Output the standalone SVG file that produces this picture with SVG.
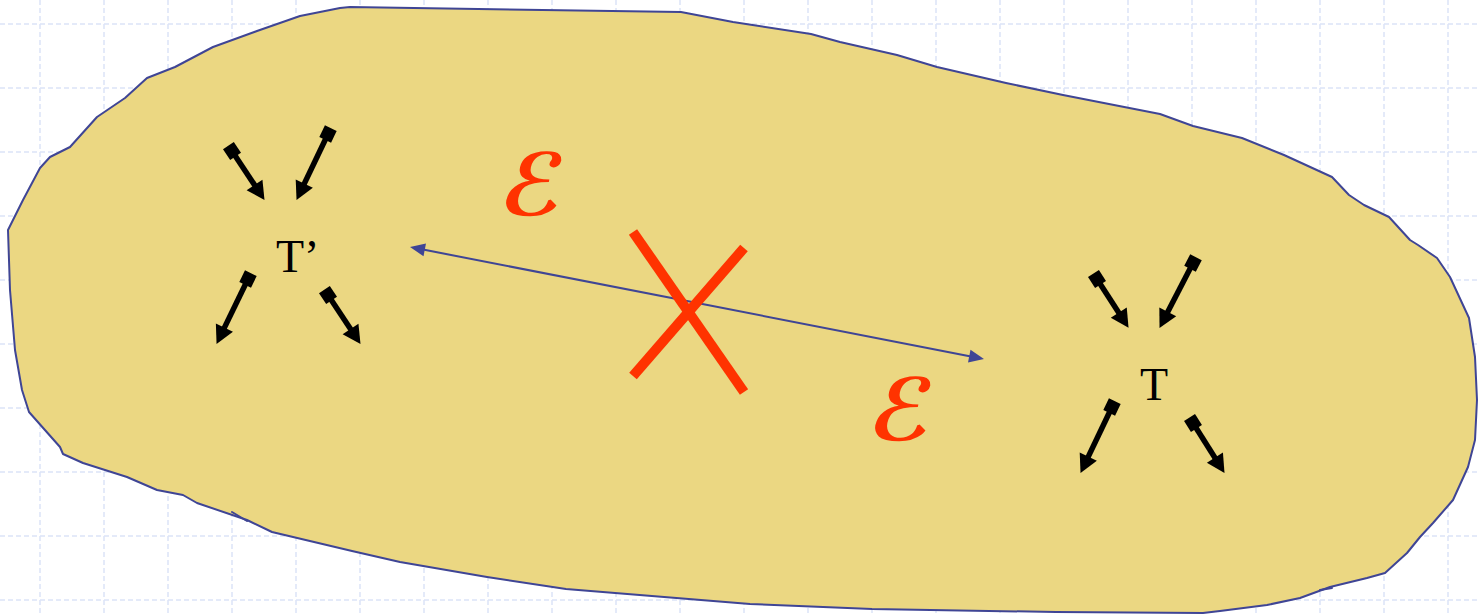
<svg xmlns="http://www.w3.org/2000/svg" width="1478" height="615" viewBox="0 0 1478 615">
<defs>
<style>
.grid line{stroke:#dbe3f8;stroke-width:1.5;stroke-dasharray:5 3}
.blob{fill:#ebd782;stroke:#3f4595;stroke-width:2;stroke-linejoin:round}
.hook{fill:none;stroke:#3f4595;stroke-width:2;stroke-linecap:round}
.blk{stroke:#000;stroke-width:5.5;marker-start:url(#sq);marker-end:url(#ah)}
.blue{stroke:#3f4595;stroke-width:2;marker-start:url(#bh);marker-end:url(#bh)}
.x{stroke:#ff3300;stroke-width:10}
.lbl{font-family:"Liberation Serif","Times New Roman",serif;font-size:46px;fill:#000}
.eps{font-family:"DejaVu Sans",sans-serif;font-weight:bold;font-size:86px;fill:#ff3300}
</style>
<marker id="ah" viewBox="-4 -11 24 22" markerWidth="24" markerHeight="22" refX="0" refY="0" orient="auto" markerUnits="userSpaceOnUse">
<path d="M-3,-9.5 L15,0 L-3,9.5 z" fill="#000"/>
</marker>
<marker id="sq" viewBox="-9 -9 18 18" markerWidth="18" markerHeight="18" refX="0" refY="0" orient="auto" markerUnits="userSpaceOnUse">
<path d="M-6.5,-6.5 h13 v13 h-13 z" fill="#000"/>
</marker>
<marker id="bh" viewBox="-4 -7 18 14" markerWidth="18" markerHeight="14" refX="0" refY="0" orient="auto-start-reverse" markerUnits="userSpaceOnUse">
<path d="M-3,-6.5 L12,0 L-3,6.5 z" fill="#3f4595"/>
</marker>
</defs>
<g class="grid">
<line x1="40" y1="0" x2="40" y2="615"/><line x1="104" y1="0" x2="104" y2="615"/><line x1="168" y1="0" x2="168" y2="615"/><line x1="232" y1="0" x2="232" y2="615"/><line x1="296" y1="0" x2="296" y2="615"/><line x1="360" y1="0" x2="360" y2="615"/><line x1="424" y1="0" x2="424" y2="615"/><line x1="488" y1="0" x2="488" y2="615"/><line x1="552" y1="0" x2="552" y2="615"/><line x1="616" y1="0" x2="616" y2="615"/><line x1="680" y1="0" x2="680" y2="615"/><line x1="744" y1="0" x2="744" y2="615"/><line x1="808" y1="0" x2="808" y2="615"/><line x1="872" y1="0" x2="872" y2="615"/><line x1="936" y1="0" x2="936" y2="615"/><line x1="1000" y1="0" x2="1000" y2="615"/><line x1="1064" y1="0" x2="1064" y2="615"/><line x1="1128" y1="0" x2="1128" y2="615"/><line x1="1192" y1="0" x2="1192" y2="615"/><line x1="1256" y1="0" x2="1256" y2="615"/><line x1="1320" y1="0" x2="1320" y2="615"/><line x1="1384" y1="0" x2="1384" y2="615"/><line x1="1448" y1="0" x2="1448" y2="615"/>
<line x1="0" y1="24" x2="1478" y2="24"/><line x1="0" y1="88" x2="1478" y2="88"/><line x1="0" y1="152" x2="1478" y2="152"/><line x1="0" y1="216" x2="1478" y2="216"/><line x1="0" y1="280" x2="1478" y2="280"/><line x1="0" y1="344" x2="1478" y2="344"/><line x1="0" y1="408" x2="1478" y2="408"/><line x1="0" y1="472" x2="1478" y2="472"/><line x1="0" y1="536" x2="1478" y2="536"/><line x1="0" y1="600" x2="1478" y2="600"/>
</g>
<g id="region">
<path class="blob" d="M350,7 L681,12 L733,22 L811,34 L840,42 L897,55 L937,67 L1006,83 L1063,95 L1160,114 L1193,126 L1242,138 L1284,155 L1332,177 L1349,195 L1364,205 L1389,217 L1410,240 L1418,245 L1437,258 L1450,277 L1469,318 L1475,357 L1477,400 L1475,440 L1468,467 L1453,500 L1433,523 L1420,537 L1407,553 L1385,573 L1367,578 L1330,587 L1300,598 L1267,605 L1220,611 L1203,613 L1056,612 L872,609 L750,604 L566,589 L487,577 L400,562 L352,551 L272,532 L247,520 L197,503 L183,495 L157,490 L127,477 L83,463 L63,454 L60,447 L29,412 L22,390 L15,350 L10,290 L8,230 L23,200 L40,168 L50,157 L70,147 L97,117 L125,98 L147,78 L175,67 L213,47 L257,31 L300,16 L340,8 Z"/>
<path class="hook" d="M232,512 L247,521 M1320,590 L1332,588"/>
</g>
<g id="node-Tprime">
<text class="lbl" x="276" y="272">T’</text>
</g>
<g id="node-T">
<text class="lbl" x="1140" y="400">T</text>
</g>
<g id="connectors">
<line class="blk" x1="232" y1="151" x2="256.2" y2="187.4"/>
<line class="blk" x1="328" y1="134" x2="303" y2="186.4"/>
<line class="blk" x1="248" y1="279" x2="223.1" y2="330.4"/>
<line class="blk" x1="328" y1="295" x2="352.2" y2="331.4"/>
<line class="blk" x1="1097" y1="279" x2="1120.4" y2="315.2"/>
<line class="blk" x1="1193" y1="263" x2="1166.4" y2="314.6"/>
<line class="blk" x1="1112" y1="407" x2="1087" y2="459.4"/>
<line class="blk" x1="1193" y1="423" x2="1216.5" y2="460.2"/>
<line class="blue" x1="421.8" y1="249.3" x2="972.2" y2="356.7"/>
</g>
<g id="cross">
<line class="x" x1="633" y1="232" x2="744" y2="392"/>
<line class="x" x1="744" y1="248" x2="633" y2="376"/>
</g>
<g id="labels">
<text class="eps" transform="translate(497,215) skewX(-12)" x="0" y="0">ℰ</text>
<text class="eps" transform="translate(866,440) skewX(-12)" x="0" y="0">ℰ</text>
</g>
</svg>
